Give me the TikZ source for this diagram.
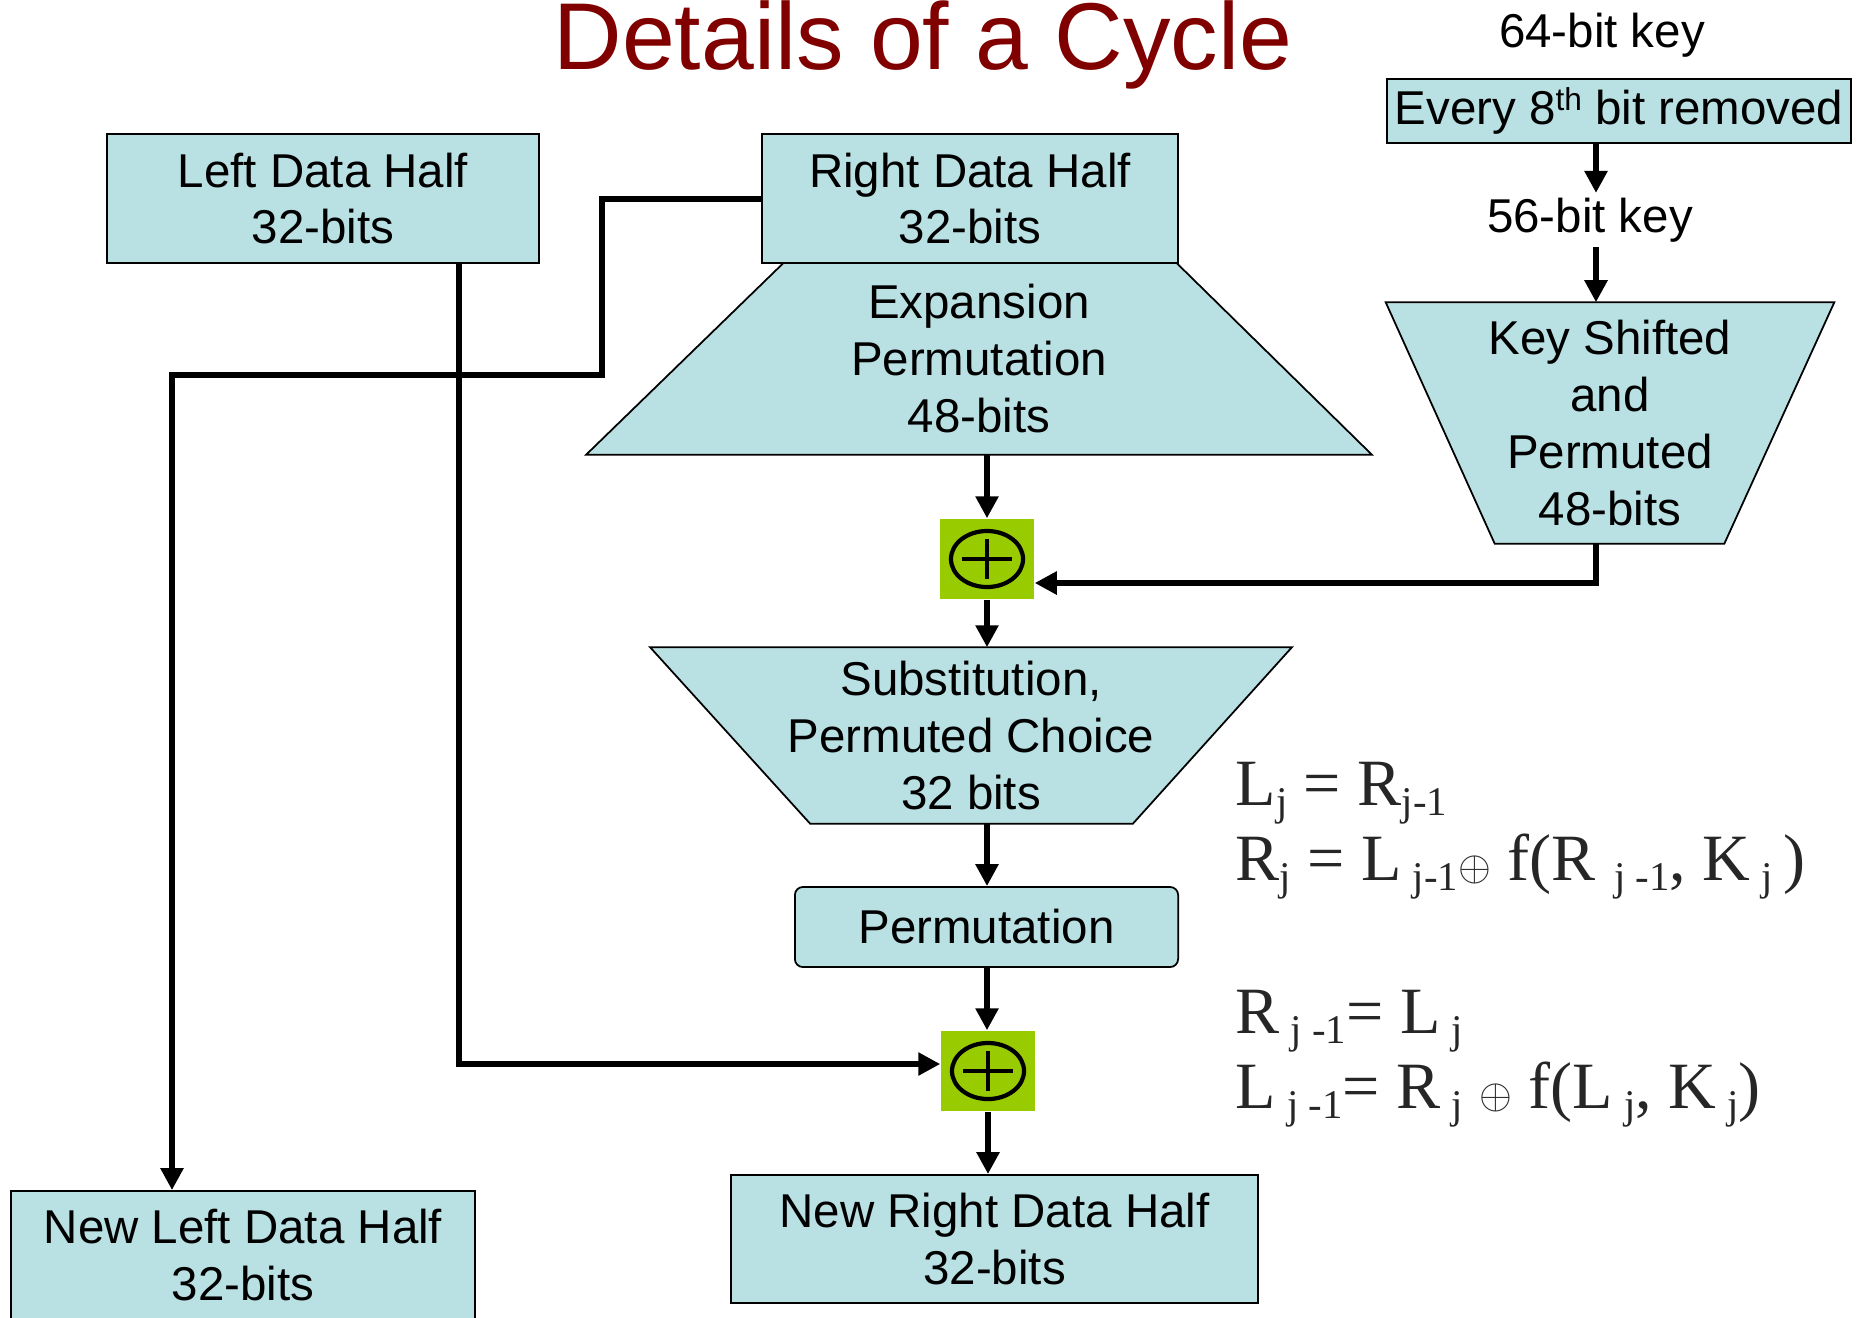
\documentclass[tikz,border=0pt]{standalone}
\usepackage{fontspec}
\setmainfont{Liberation Sans}
\newfontfamily\eqfont{Liberation Serif}
\usetikzlibrary{arrows.meta,calc,backgrounds}
\definecolor{boxblue}{HTML}{B9E0E3}
\definecolor{xorgreen}{HTML}{99CC00}
\definecolor{titlered}{HTML}{800000}
\newcommand{\sbs}[1]{\raisebox{-3pt}{\fontsize{11.6}{11.6}\selectfont #1}}
\newcommand{\xo}{{\fontsize{11.6}{11.6}\selectfont$\oplus$}}
\newcommand{\ordth}{\raisebox{0.3em}{\fontsize{9}{9}\selectfont th}}

\begin{document}
\begin{tikzpicture}[x=0.01cm,y=-0.01cm,
  lbl/.style={font=\fontsize{13.5}{16.2}\selectfont,align=center},
  databox/.style={lbl,draw,line width=0.5pt,fill=boxblue,inner sep=0pt},
  trapbox/.style={lbl,inner sep=0pt},
  trapline/.style={draw,line width=0.5pt,fill=boxblue},
  xorbox/.style={fill=xorgreen,minimum width=0.94cm,minimum height=0.8cm,inner sep=0pt,
    path picture={\draw[line width=1.2pt] (path picture bounding box.center) ellipse [x radius=0.36cm,y radius=0.28cm];
      \draw[line width=1.4pt] ([xshift=-0.25cm]path picture bounding box.center) -- ([xshift=0.25cm]path picture bounding box.center)
        ([yshift=-0.2cm]path picture bounding box.center) -- ([yshift=0.2cm]path picture bounding box.center);}},
  flow/.style={line width=1.7pt,-{Triangle[length=0.22cm,width=0.22cm]}},
  eq/.style={font=\eqfont\fontsize{18.8}{18.8}\selectfont,text=black!85,anchor=base west,inner sep=0pt}]
\useasboundingbox (0,0) rectangle (1864,1317);

\node[font=\fontsize{27}{32}\selectfont,text=titlered,anchor=base] (title) at (923,69) {Details of a Cycle};

% data halves
\node[databox,minimum width=4.32cm,minimum height=1.29cm] (lefthalf) at (323,198.5) {Left Data Half\\32-bits};
\node[databox,minimum width=4.16cm,minimum height=1.29cm] (righthalf) at (970,198.5) {Right Data Half\\32-bits};
\node[trapbox,minimum width=7.84cm,minimum height=1.91cm] (expand) at (979,358.5) {Expansion\\Permutation\\48-bits};

% key schedule
\node[lbl,anchor=base] (key64) at (1602,47) {64-bit key};
\node[databox,minimum width=4.64cm,minimum height=0.64cm] (every8) at (1619,111) {Every 8\ordth{} bit removed};
\node[lbl,anchor=base,inner sep=0.04cm] (key56) at (1590,232) {56-bit key};
\node[trapbox,minimum width=4.47cm,minimum height=2.40cm] (keyshift) at (1610,423) {Key Shifted\\and\\Permuted\\48-bits};
\coordinate (keyx) at (1596,0);

% round function
\node[xorbox] (xor1) at (987,559) {};
\node[trapbox,minimum width=6.40cm,minimum height=1.75cm] (subst) at (971,735.5) {Substitution,\\Permuted Choice\\32 bits};
\node[databox,rounded corners=0.08cm,minimum width=3.83cm,minimum height=0.80cm] (perm) at (986.5,927) {Permutation};
\node[xorbox] (xor2) at (988,1071) {};

% outputs
\node[databox,minimum width=5.27cm,minimum height=1.28cm] (newright) at (994.5,1239) {New Right Data Half\\32-bits};
\node[databox,minimum width=4.64cm,minimum height=1.28cm] (newleft) at (243,1255) {New Left Data Half\\32-bits};

% trapezoid outlines behind their texts
\begin{scope}[on background layer]
\path[trapline] (expand.south west) -- ([xshift=1.98cm]expand.north west) -- ([xshift=-1.96cm]expand.north east) -- (expand.south east) -- cycle;
\path[trapline] (keyshift.north west) -- (keyshift.north east) -- ([xshift=-1.10cm]keyshift.south east) -- ([xshift=1.09cm]keyshift.south west) -- cycle;
\path[trapline] (subst.north west) -- (subst.north east) -- ([xshift=-1.59cm]subst.south east) -- ([xshift=1.60cm]subst.south west) -- cycle;
\end{scope}

% equations
\node[eq] (eqa) at (1235,805) {L\sbs{j} = R\sbs{j-1}};
\node[eq] (eqb) at (1235,880) {R\sbs{j} = L\,\sbs{j-1}\xo{} f(R\;\sbs{j -1}, K\,\sbs{j}\,)};
\node[eq] (eqc) at (1235,1033) {R\,\sbs{j -1}= L\,\sbs{j}};
\node[eq] (eqd) at (1235,1108) {L\,\sbs{j -1}= R\,\sbs{j} \xo{} f(L\,\sbs{j}, K\,\sbs{j})};

\coordinate (jog) at (602,375);
\path[flow]
(keyx |- every8.south) edge (keyx |- key56.north)
(keyx |- key56.south) edge (keyx |- keyshift.north)
(xor1.north |- expand.south) edge (xor1.north)
(xor1.south) edge (xor1.south |- subst.north)
(xor1.south |- subst.south) edge (xor1.south |- perm.north)
(xor1.south |- perm.south) edge (xor1.south |- xor2.north)
(xor2.south) edge (xor2.south |- newright.north);
\draw[flow] (keyx |- keyshift.south) |- ($(xor1.east)+(0,24)$);
\draw[flow] ($(lefthalf.south)+(136,0)$) |- ($(xor2.west)+(0,-7)$);
\draw[flow] (righthalf.west) -| (jog) -| ($(newleft.north)+(-71,0)$);
\end{tikzpicture}
\end{document}
